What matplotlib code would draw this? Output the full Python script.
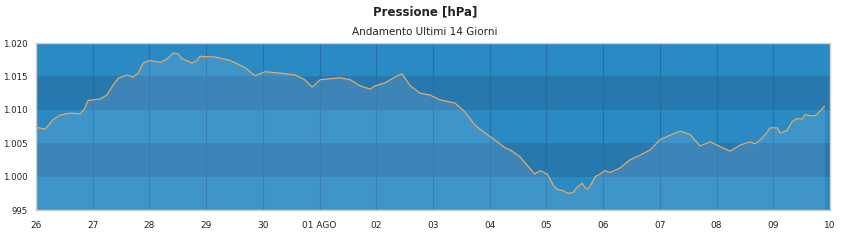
"""Pressione [hPa] - andamento ultimi 14 giorni (area chart on banded background)."""
import matplotlib
matplotlib.use("Agg")
import matplotlib.pyplot as plt

# day offsets from the first tick (26) and pressure readings in hPa
DAYS = [
    0.00, 0.16, 0.30, 0.42, 0.60, 0.78, 0.86, 0.92, 1.13, 1.25,
    1.36, 1.45, 1.60, 1.71, 1.80, 1.89, 2.01, 2.19, 2.31, 2.42,
    2.50, 2.57, 2.75, 2.84, 2.89, 3.16, 3.42, 3.69, 3.86, 4.04,
    4.30, 4.57, 4.74, 4.87, 5.01, 5.36, 5.54, 5.71, 5.89, 5.98,
    6.15, 6.33, 6.45, 6.60, 6.77, 6.95, 7.12, 7.39, 7.56, 7.74,
    7.92, 8.09, 8.27, 8.36, 8.53, 8.66, 8.76, 8.80, 8.89, 9.01,
    9.06, 9.12, 9.19, 9.29, 9.38, 9.47, 9.54, 9.63, 9.68, 9.73,
    9.80, 9.86, 9.95, 10.03, 10.12, 10.30, 10.47, 10.65, 10.83, 11.00,
    11.18, 11.36, 11.53, 11.71, 11.89, 11.94, 12.06, 12.24, 12.41, 12.59,
    12.68, 12.77, 12.89, 12.94, 13.07, 13.12, 13.24, 13.33, 13.42, 13.51,
    13.56, 13.65, 13.74, 13.79, 13.90,
]
PRESSURE = [
    1007.4, 1007.1, 1008.5, 1009.2, 1009.5, 1009.4, 1010.2, 1011.4, 1011.6, 1012.2,
    1013.7, 1014.7, 1015.2, 1014.9, 1015.5, 1017.0, 1017.4, 1017.1, 1017.6, 1018.5,
    1018.4, 1017.7, 1017.0, 1017.4, 1018.0, 1017.9, 1017.4, 1016.3, 1015.1, 1015.7,
    1015.5, 1015.2, 1014.5, 1013.4, 1014.5, 1014.8, 1014.5, 1013.6, 1013.1, 1013.6,
    1014.0, 1014.9, 1015.4, 1013.6, 1012.5, 1012.2, 1011.5, 1011.0, 1009.7, 1007.7,
    1006.5, 1005.5, 1004.3, 1004.0, 1003.0, 1001.7, 1000.7, 1000.4, 1000.9, 1000.4,
    999.7, 998.7, 998.1, 997.9, 997.5, 997.6, 998.4, 999.0, 998.4, 998.1,
    999.0, 1000.0, 1000.4, 1000.9, 1000.6, 1001.3, 1002.5, 1003.2, 1004.0, 1005.5,
    1006.2, 1006.8, 1006.3, 1004.6, 1005.2, 1005.0, 1004.5, 1003.8, 1004.7, 1005.2,
    1004.9, 1005.5, 1006.6, 1007.3, 1007.3, 1006.5, 1006.9, 1008.2, 1008.7, 1008.6,
    1009.3, 1009.1, 1009.1, 1009.5, 1010.5,
]

X_LABELS = ["26", "27", "28", "29", "30", "01 AGO", "02", "03", "04", "05",
            "06", "07", "08", "09", "10"]
Y_TICKS = [995, 1000, 1005, 1010, 1015, 1020]
Y_LABELS = ["995", "1.000", "1.005", "1.010", "1.015", "1.020"]

BAND_LIGHT = "#2a8ac4"
BAND_DARK = "#2878b0"
GRID = "#2270a6"
LINE = "#e6aa66"

fig = plt.figure(figsize=(8.5, 2.4), dpi=100)
ax = fig.add_axes([36 / 850, 30 / 240, 794 / 850, 167 / 240])

# alternating horizontal bands
for k, lo in enumerate(Y_TICKS[:-1]):
    ax.axhspan(lo, lo + 5, color=BAND_DARK if k % 2 else BAND_LIGHT, lw=0, zorder=0)

for i in range(len(X_LABELS)):
    ax.axvline(i, color=GRID, lw=0.8, zorder=1)

ax.fill_between(DAYS, 995, PRESSURE, color="white", alpha=0.1, lw=0, zorder=2)
ax.plot(DAYS, PRESSURE, color=LINE, lw=0.9, zorder=3)

ax.set_xlim(0, 14)
ax.set_ylim(995, 1020)
ax.set_xticks(range(len(X_LABELS)))
ax.set_xticklabels(X_LABELS)
ax.set_yticks(Y_TICKS)
ax.set_yticklabels(Y_LABELS)
ax.tick_params(length=0, labelsize=6.5, colors="#222222")
ax.tick_params(axis="x", pad=8)
ax.tick_params(axis="y", pad=6, labelsize=6.2)
for s in ax.spines.values():
    s.set_color("#d0d0d0")
    s.set_linewidth(1)

fig.text(0.5, 1 - 12 / 240, "Pressione [hPa]", ha="center", va="center",
         fontsize=8.5, fontweight="bold", color="#222222")
fig.text(0.5, 1 - 32 / 240, "Andamento Ultimi 14 Giorni", ha="center",
         va="center", fontsize=7.5, color="#222222")

fig.savefig("out.png", dpi=100)
